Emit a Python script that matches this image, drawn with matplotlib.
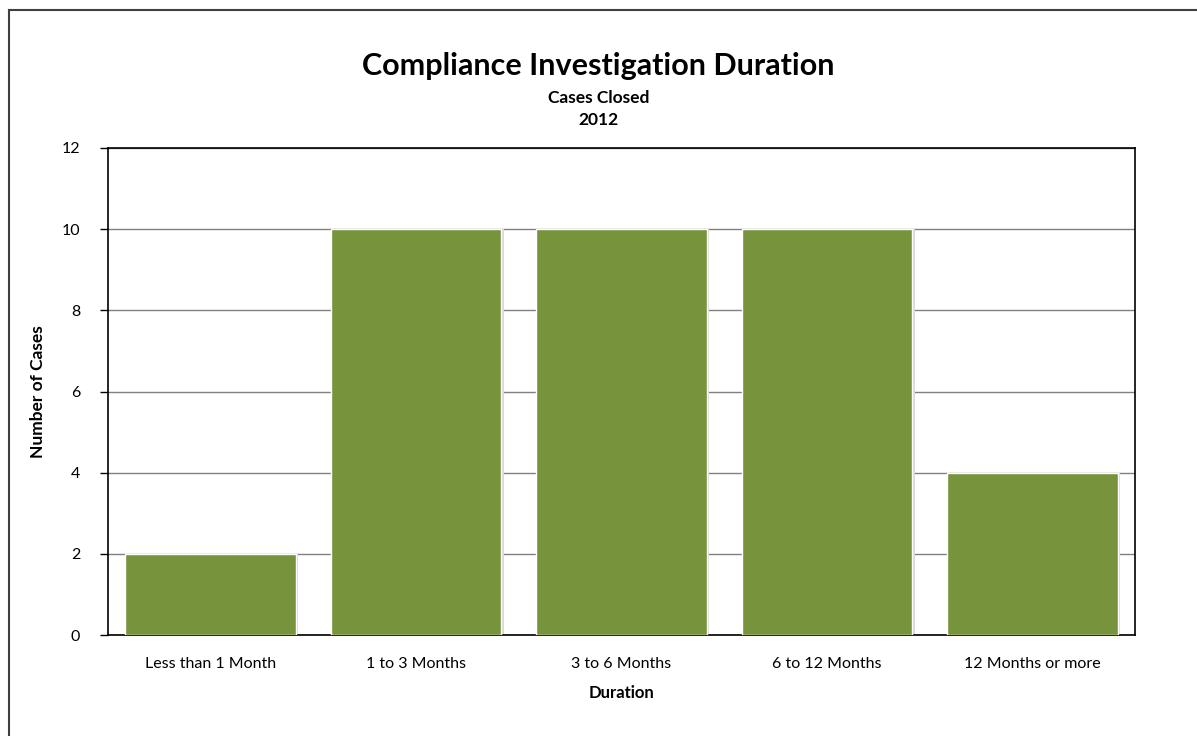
import matplotlib
matplotlib.use('Agg')
import matplotlib.pyplot as plt
from matplotlib.lines import Line2D

# chart data
categories = ['Less than 1 Month', '1 to 3 Months', '3 to 6 Months', '6 to 12 Months', '12 Months or more']
cases = [2, 10, 10, 10, 4]

plt.rcParams['font.family'] = ['Lato', 'DejaVu Sans']

fig = plt.figure(figsize=(11.97, 7.36), dpi=100)
ax = fig.add_axes([0.0902, 0.137, 0.858, 0.662])

x = list(range(len(categories)))
# soft shadow to the right of each bar
ax.bar([i + 0.012 for i in x], cases, width=0.83, color='#d9d9d9', zorder=2)
ax.bar(x, cases, width=0.83, color='#77933C', edgecolor='white', linewidth=1.0, zorder=3)

ax.set_xlim(-0.5, len(categories) - 0.5)
ax.set_ylim(0, 12)
ax.set_yticks(range(0, 13, 2))
ax.set_xticks(x)
ax.set_xticklabels(categories, fontsize=11.5)
ax.tick_params(axis='y', labelsize=11.5, length=6, width=1, direction='out', pad=14)
ax.tick_params(axis='x', length=0, pad=16)
ax.grid(axis='y', color='#808080', linewidth=1, zorder=0)
ax.set_axisbelow(True)
for s in ax.spines.values():
    s.set_color('black')
    s.set_linewidth(1.2)

ax.set_ylabel('Number of Cases', fontsize=12.5, fontweight='bold', labelpad=11)
ax.set_xlabel('Duration', fontsize=12, fontweight='bold', labelpad=10)

fig.text(0.5, 0.91, 'Compliance Investigation Duration', ha='center', va='center',
         fontsize=22, fontweight='bold')
fig.text(0.5, 0.867, 'Cases Closed', ha='center', va='center', fontsize=12.5, fontweight='bold')
fig.text(0.5, 0.837, '2012', ha='center', va='center', fontsize=12.5, fontweight='bold')

# outer frame (top and left edges visible)
fig.add_artist(Line2D([0.0075, 1.0], [0.9865, 0.9865], color='#404040', linewidth=1.5, transform=fig.transFigure))
fig.add_artist(Line2D([0.0075, 0.0075], [0.0, 0.9865], color='#404040', linewidth=1.5, transform=fig.transFigure))

fig.savefig('out.png', dpi=100, facecolor='white')
